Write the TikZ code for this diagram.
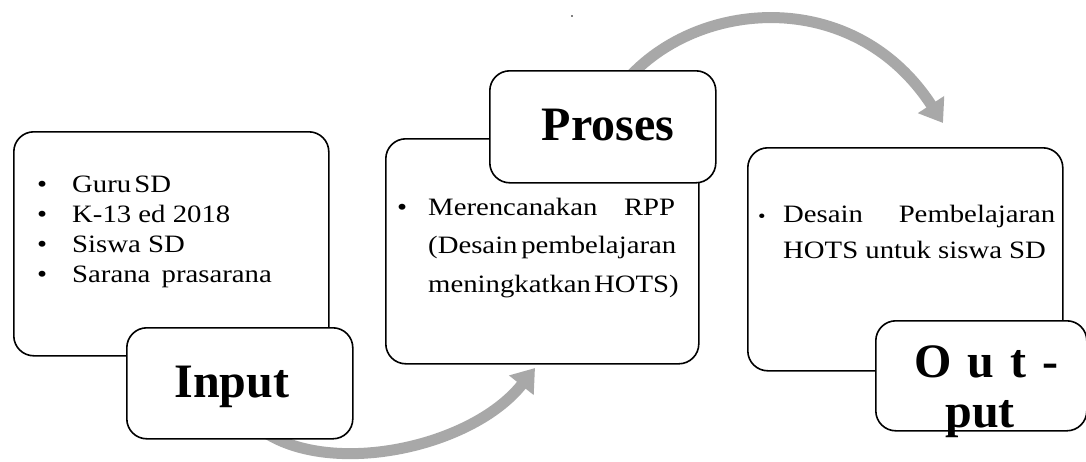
\documentclass[tikz,border=0pt]{standalone}
\usepackage{fontspec}
\setmainfont{Liberation Serif}
\newfontfamily\bodyfont[FakeStretch=1.15]{Liberation Serif}
\usetikzlibrary{arrows.meta}
\definecolor{flowgray}{RGB}{168,168,168}
\begin{document}
\begin{tikzpicture}[x=1pt,y=-1pt,
  mainbox/.style={draw=black, line width=1.6pt, rounded corners=20pt, fill=white, anchor=north west, inner sep=0pt},
  labelbox/.style={draw=black, line width=1.6pt, rounded corners=20pt, fill=white, anchor=north west, inner sep=0pt},
  flow/.style={line width=11pt, draw=flowgray, -{Triangle[length=22pt,width=30pt]}},
  body/.style={font=\bodyfont\fontsize{25}{28}\selectfont, anchor=base west, inner sep=0pt},
  title/.style={font=\fontsize{48}{52}\selectfont\bfseries, anchor=base, inner sep=0pt}]
\useasboundingbox (0,0) rectangle (1086,461);
\fill[white] (0,0) rectangle (1086,461);

% arrows
\coordinate (a1s) at (255,425);
\coordinate (a1e) at (535,368);
\coordinate (a2s) at (615,95);
\coordinate (a2e) at (943,123);
\draw[flow] (a1s) .. controls (320,480) and (470,450) .. (a1e);
\draw[flow] (a2s) .. controls (680,0) and (850,-20) .. (a2e);
\fill (572,16) circle (0.8);

% main boxes
\node[mainbox, minimum width=315pt, minimum height=224pt] (inbox) at (13,131) {};
\node[mainbox, minimum width=313pt, minimum height=225pt] (probox) at (385,138) {};
\node[mainbox, minimum width=315pt, minimum height=223pt] (outbox) at (747,147) {};

% label boxes
\node[labelbox, minimum width=226pt, minimum height=111pt] (inlab) at (126,327) {};
\node[labelbox, minimum width=226pt, minimum height=112pt] (prolab) at (489,70) {};
\node[labelbox, minimum width=211pt, minimum height=110pt] (outlab) at (875,320) {};

% titles
\node[title] (tin) at (232,397) {Input};
\node[title] (tpro) at (608,140) {Proses};
\node[title] (tout1) at (986,377) {O\,\,u\,\,t\,\,-};
\node[title] (tout2) at (980,427) {put};

% input list
\node[body] (ib1) at (37,192) {•};
\node[body] (ib2) at (37,222) {•};
\node[body] (ib3) at (37,252) {•};
\node[body] (ib4) at (37,282) {•};
\node[body] (it1) at (72,192) {Guru\kern0.12em SD};
\node[body] (it2) at (72,222) {K-13 ed 2018};
\node[body] (it3) at (72,252) {Siswa SD};
\node[body] (it4) at (72,282) {Sarana\hspace{0.45em}prasarana};

% proses list
\node[body] (pb1) at (397,215) {•};
\node[body] (pt1) at (428,215) {\makebox[247pt][s]{Merencanakan\hspace{0.3em plus 1fil}RPP}};
\node[body] (pt2) at (428,253) {(Desain\hspace{0.15em}pembelajaran};
\node[body] (pt3) at (428,292) {meningkatkan\hspace{0.12em}HOTS)};

% output list
\node[body] (ob1) at (758,222) {\scalebox{0.75}{•}};
\node[body] (ot1) at (783,222) {\makebox[272pt][s]{Desain\hspace{0.3em plus 1fil}Pembelajaran}};
\node[body] (ot2) at (783,258) {HOTS untuk siswa SD};
\end{tikzpicture}
\end{document}
